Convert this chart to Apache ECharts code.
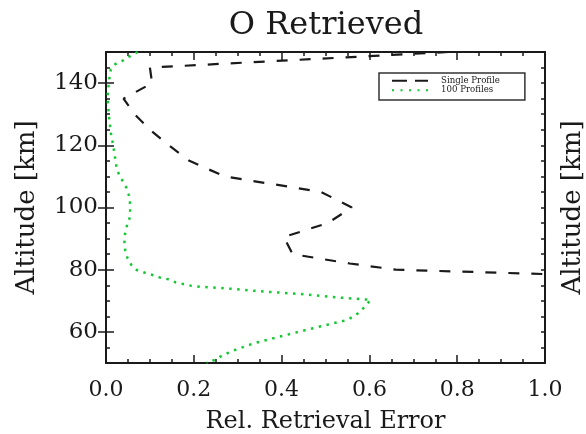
<!DOCTYPE html>
<html>
<head>
<meta charset="utf-8">
<script src="https://cdn.jsdelivr.net/npm/echarts@6/dist/echarts.min.js"></script>
<style>
html,body{margin:0;padding:0;background:#fff;}
#c{width:586px;height:434px;}
</style>
</head>
<body>
<div id="c"></div>
<script>
// ---- data ----
const titleText = 'O Retrieved';
const xAxisTitle = 'Rel. Retrieval Error';
const yAxisTitle = 'Altitude [km]';
const seriesNames = ['Single Profile', '100 Profiles'];
const yTickLabels = [60, 80, 100, 120, 140];

const singleAlt = [150, 145, 140, 135, 130, 125, 120, 115, 110, 105, 100, 95, 90.5, 85, 82, 80, 75];
const singleErr = [0.78, 0.10, 0.105, 0.04, 0.065, 0.10, 0.143, 0.19, 0.27, 0.49, 0.56, 0.505, 0.405, 0.425, 0.555, 0.66, 1.87];

const multiAlt = [150, 148.5, 147.2, 146.1, 144.4, 142, 137, 134, 129, 124, 121, 118.5, 113, 110.4, 108.3, 106.2, 103.5, 101, 98.6, 96.2, 93.8, 91.2, 88.7, 86.1, 83.7, 81.5, 79.9, 79.0, 78.3, 77.5, 76.9, 75.9, 75.4, 74.8, 74.5, 74.2, 73.8, 72.9, 72.2, 71.1, 70.3, 66.5, 64.9, 63.8, 61.2, 58.5, 56.3, 54.4, 52.6, 51, 50];
const multiErr = [0.072, 0.053, 0.038, 0.021, 0.011, 0.008, 0.004, 0.004, 0.007, 0.011, 0.015, 0.018, 0.024, 0.030, 0.039, 0.047, 0.053, 0.055, 0.055, 0.053, 0.047, 0.043, 0.042, 0.044, 0.049, 0.058, 0.070, 0.089, 0.106, 0.123, 0.142, 0.159, 0.176, 0.195, 0.214, 0.252, 0.290, 0.366, 0.442, 0.526, 0.603, 0.579, 0.563, 0.548, 0.472, 0.396, 0.336, 0.298, 0.267, 0.248, 0.229];

const zip = (xs, ys) => xs.map((x, i) => [x, ys[i]]);

const FONT = 'DejaVu Serif';
const INK = '#1a1a1a';
const GREEN = '#14c832';

const chart = echarts.init(document.getElementById('c'), null, {renderer: 'canvas'});

const baseX = {
  type: 'value', min: 0, max: 1, interval: 0.2,
  splitLine: {show: false},
  axisLine: {show: true, onZero: false, lineStyle: {color: INK, width: 2}},
  axisTick: {show: true, inside: true, length: 8, lineStyle: {color: INK, width: 1.5}},
  minorTick: {show: true, splitNumber: 4, length: 4, lineStyle: {color: INK, width: 1.5}}
};
const baseY = {
  type: 'value', min: 50, max: 150, interval: 5,
  splitLine: {show: false},
  axisLine: {show: true, onZero: false, lineStyle: {color: INK, width: 2}},
  axisTick: {show: true, inside: true, length: 4, lineStyle: {color: INK, width: 1.5}},
  axisLabel: {show: false}
};
const majorY = {
  type: 'value', min: 50, max: 150, interval: 5,
  splitLine: {show: false},
  axisLine: {show: false},
  axisTick: {show: true, inside: true, length: 8, customValues: yTickLabels, lineStyle: {color: INK, width: 1.5}},
  axisLabel: {show: false}
};

const dashIcon = 'path://M0,0h15v2h-15z M23,0h13v2h-13z';
const dotIcon = 'path://M0,0h2v2h-2z M8.5,0h2v2h-2z M17,0h2v2h-2z M25.5,0h2v2h-2z M34,0h2v2h-2z';

chart.setOption({
  animation: false,
  backgroundColor: '#fff',
  title: {
    text: titleText, left: 326, top: 10, textAlign: 'center', padding: 0,
    textStyle: {fontFamily: FONT, fontSize: 32, fontWeight: 'normal', color: INK}
  },
  grid: {left: 106, right: 41, top: 52, bottom: 71, containLabel: false, outerBoundsMode: 'none'},
  legend: {
    left: 379, top: 73, orient: 'vertical',
    itemWidth: 36, itemHeight: 2, itemGap: 0,
    padding: [3, 25, 5, 13],
    borderColor: '#333', borderWidth: 1.5,
    textStyle: {fontFamily: FONT, fontSize: 8.6, color: INK, padding: [0, 0, 0, 8], lineHeight: 9.5},
    data: [
      {name: seriesNames[0], icon: dashIcon},
      {name: seriesNames[1], icon: dotIcon}
    ]
  },
  xAxis: [
    Object.assign({}, baseX, {
      position: 'bottom',
      name: xAxisTitle, nameLocation: 'middle', nameGap: 47,
      nameTextStyle: {fontFamily: FONT, fontSize: 24, color: INK},
      axisLabel: {show: true, margin: 16, fontFamily: FONT, fontSize: 22, color: INK,
        formatter: v => v.toFixed(1)}
    }),
    Object.assign({}, baseX, {position: 'top', axisLabel: {show: false}})
  ],
  yAxis: [
    Object.assign({}, baseY, {
      position: 'left',
      name: yAxisTitle, nameLocation: 'middle', nameGap: 66, nameRotate: 90,
      nameTextStyle: {fontFamily: FONT, fontSize: 26, color: INK},
      axisLabel: {show: true, margin: 8, fontFamily: FONT, fontSize: 23, color: INK,
        customValues: yTickLabels}
    }),
    Object.assign({}, baseY, {
      position: 'right',
      name: yAxisTitle, nameLocation: 'middle', nameGap: 15, nameRotate: 90,
      nameTextStyle: {fontFamily: FONT, fontSize: 26, color: INK}
    }),
    Object.assign({}, majorY, {position: 'left'}),
    Object.assign({}, majorY, {position: 'right'})
  ],
  series: [
    {
      name: seriesNames[0], type: 'line', xAxisIndex: 0, yAxisIndex: 0,
      data: zip(singleErr, singleAlt),
      symbol: 'none', clip: true,
      lineStyle: {color: INK, width: 2.2, type: [11, 12]},
      itemStyle: {color: INK}
    },
    {
      name: seriesNames[1], type: 'line', xAxisIndex: 0, yAxisIndex: 0,
      data: zip(multiErr, multiAlt),
      symbol: 'none', clip: true,
      lineStyle: {color: GREEN, width: 2.5, type: [2.5, 5.5]},
      itemStyle: {color: GREEN}
    }
  ]
});
</script>
</body>
</html>
